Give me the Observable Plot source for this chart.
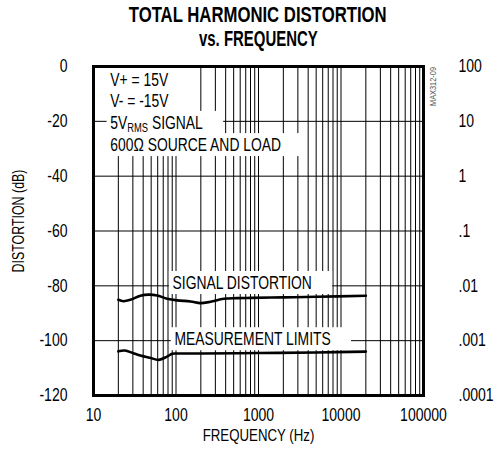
<!DOCTYPE html>
<html><head><meta charset="utf-8">
<script src="https://cdn.jsdelivr.net/npm/d3@7"></script>
<script src="https://cdn.jsdelivr.net/npm/@observablehq/plot@0.6"></script>
<style>
body{margin:0;background:#fff;}
#title{height:52px;box-sizing:border-box;padding-top:3px;padding-left:21px;text-align:center;
font-family:"Liberation Sans",Arial,sans-serif;font-weight:bold;font-size:22px;line-height:24px;color:#000;}
#title span{display:inline-block;transform-origin:50% 50%;white-space:nowrap;}
#chart svg{display:block;}
</style></head>
<body>
<div id="title"></div>
<div id="chart"></div>
<script>
const titleLines = ["TOTAL HARMONIC DISTORTION", "vs. FREQUENCY"];
const yTicks = [0, -20, -40, -60, -80, -100, -120];
const rightLabels = ["100", "10", "1", ".1", ".01", ".001", ".0001"];
const xTicks = [10, 100, 1000, 10000, 100000];
const gridFreqs = [20,30,40,50,60,70,80,90,100,200,300,400,500,600,700,800,900,1000,2000,3000,4000,5000,6000,7000,8000,9000,10000,20000,30000,40000,50000,60000,70000,80000,90000];
const gridDb = [-20, -40, -60, -80, -100];

const sigFreq = [20, 23, 28, 37, 47, 59, 78, 103, 150, 198, 262, 380, 550, 800, 2000, 5000, 20000];
const sigDb = [-85.1, -85.6, -85.1, -83.6, -83.2, -83.5, -84.7, -85.3, -85.7, -86.3, -85.8, -84.7, -84.5, -84.4, -84.2, -84.0, -83.6];
const limFreq = [20, 24, 30, 37, 48, 62, 78, 90, 100, 200, 1000, 5000, 20000];
const limDb = [-103.9, -103.6, -104.5, -105.4, -106.2, -107.0, -105.8, -104.8, -104.7, -104.7, -104.5, -104.3, -104.0];

const noteText = ["V+ = 15V", "V- = -15V", "5VRMS SIGNAL", "600Ω SOURCE AND LOAD", "SIGNAL DISTORTION", "MEASUREMENT LIMITS"];
const noteFreq = [16, 16, 16, 16, 91, 96];
const noteDb = [-4.8, -12.7, -20.6, -28.7, -79.0, -99.5];

const titleScale = [0.76, 0.68];
document.getElementById("title").innerHTML = titleLines
  .map((t, i) => `<span style="transform:scaleX(${titleScale[i]})">${t}</span>`).join("<br>");

const font = '"Liberation Sans",Arial,sans-serif';
const sig = sigFreq.map((f, i) => ({f, db: sigDb[i]}));
const lim = limFreq.map((f, i) => ({f, db: limDb[i]}));
const notes = noteText.map((t, i) => ({t, f: noteFreq[i], db: noteDb[i]}));

const chart = Plot.plot({
  width: 495,
  height: 406,
  marginTop: 14,
  marginBottom: 63,
  marginLeft: 93,
  marginRight: 72,
  style: {fontFamily: font, fontSize: "18px", background: "#fff", color: "#000"},
  x: {type: "log", domain: [10, 100000]},
  y: {domain: [-120, 0]},
  marks: [
    Plot.ruleX(gridFreqs, {stroke: "#000", strokeWidth: 1}),
    Plot.ruleY(gridDb, {stroke: "#000", strokeWidth: 1}),
    Plot.text(notes, {x: "f", y: "db", text: "t", textAnchor: "start", fill: "#000", fontSize: 18.5}),
    Plot.line(sig, {x: "f", y: "db", stroke: "#000", strokeWidth: 2.6, curve: "catmull-rom"}),
    Plot.line(lim, {x: "f", y: "db", stroke: "#000", strokeWidth: 2.6, curve: "catmull-rom"}),
    Plot.frame({stroke: "#000", strokeWidth: 3}),
    Plot.axisX({ticks: xTicks, tickSize: 0, tickPadding: 13, tickFormat: d => String(d), label: null, fontSize: 18}),
    Plot.axisY({anchor: "left", ticks: yTicks, tickSize: 0, tickPadding: 26, tickFormat: d => String(d), label: null, fontSize: 18}),
    Plot.axisY({anchor: "right", ticks: yTicks, tickSize: 0, tickPadding: 35, tickFormat: d => rightLabels[yTicks.indexOf(d)], label: null, fontSize: 18}),
    Plot.text(["FREQUENCY (Hz)"], {frameAnchor: "bottom", dy: 40, textAnchor: "middle", lineAnchor: "middle", fontSize: 17}),
    Plot.text(["DISTORTION (dB)"], {frameAnchor: "left", dx: -75, dy: -10, rotate: -90, textAnchor: "middle", lineAnchor: "middle", fontSize: 17}),
    Plot.text(["MAX312-09"], {frameAnchor: "top-right", dx: 9, dy: 20, rotate: -90, textAnchor: "middle", lineAnchor: "middle", fontSize: 9.5, fill: "#555"})
  ]
});

document.getElementById("chart").appendChild(chart);

// subscript for 5V RMS
d3.select(chart).selectAll("text").each(function() {
  if (this.textContent === "5VRMS SIGNAL") {
    this.textContent = "";
    const s = d3.select(this);
    s.append("tspan").text("5V");
    s.append("tspan").attr("font-size", "12.5px").attr("dy", 3).text("RMS");
    s.append("tspan").attr("dy", -3).text(" SIGNAL");
  }
});

// condensed lettering (horizontal squeeze about each text's anchor) and white label boxes
const NS = "http://www.w3.org/2000/svg";
const squeeze = {"DISTORTION (dB)": 0.73, "FREQUENCY (Hz)": 0.78};
chart.querySelectorAll("text").forEach(t => {
  const isNote = noteText.includes(t.textContent);
  const k = isNote ? 0.75 : (squeeze[t.textContent] || 0.78);
  const b = t.getBBox();
  const anchor = getComputedStyle(t).textAnchor;
  const ax = anchor === "end" ? b.x + b.width : anchor === "middle" ? b.x + b.width / 2 : b.x;
  const tr = t.getAttribute("transform") || "";
  const nt = `${tr} translate(${ax},0) scale(${k},1) translate(${-ax},0)`.trim();
  t.setAttribute("transform", nt);
  if (isNote) {
    const r = document.createElementNS(NS, "rect");
    r.setAttribute("x", b.x - 5);
    r.setAttribute("y", b.y - 1);
    r.setAttribute("width", b.width + 32);
    r.setAttribute("height", b.height + 2);
    r.setAttribute("fill", "#fff");
    r.setAttribute("transform", nt);
    t.parentNode.insertBefore(r, t.parentNode.firstChild);
  }
});
</script>
</body></html>
